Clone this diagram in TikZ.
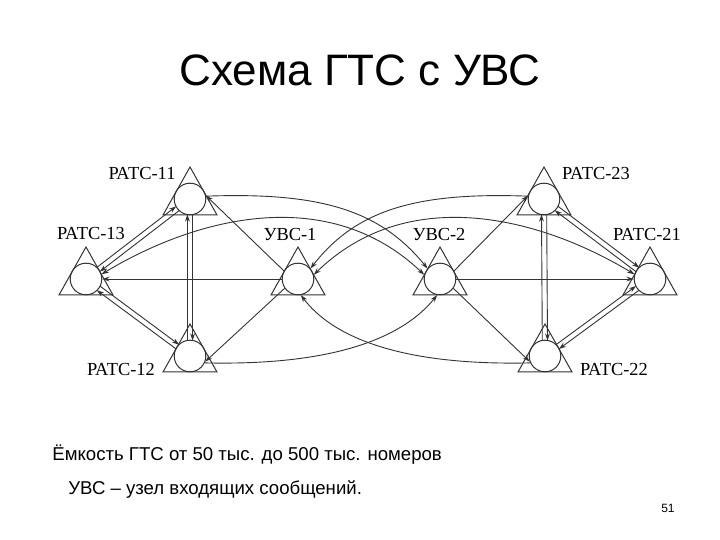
\documentclass[tikz,border=0pt]{standalone}
\usepackage{fontspec}
\setmainfont{Liberation Serif}
\newfontfamily\sansf{Liberation Sans}
\usetikzlibrary{arrows.meta,calc}
\tikzset{
  stn/.style={circle,draw=black!80,line width=0.5pt,minimum size=15.8pt,inner sep=0pt},
  tri/.style={draw=black!80,line width=0.5pt,line join=miter},
  conn/.style={draw=black!80,line width=0.45pt},
  arr/.style={-{Stealth[length=3.6pt,width=2.4pt]}},
  barr/.style={{Stealth[length=3.6pt,width=2.4pt]}-{Stealth[length=3.6pt,width=2.4pt]}},
  lbl/.style={font=\fontsize{9.2pt}{11pt}\selectfont,inner sep=0pt},
  captxt/.style={font=\sansf\fontsize{9.3pt}{11pt}\selectfont,inner sep=0pt,anchor=west},
}
\newcommand\station[3]{%
  \node[stn] (#1) at (#2,#3) {};
  \draw[tri] ([shift={(0,-32)}]#1.center) -- ([shift={(-27,16)}]#1.center) -- ([shift={(27,16)}]#1.center) -- cycle;}
\newcommand\dblconn[2]{%
  \draw[conn,arr,shorten <=7.7pt,shorten >=7.7pt] ($(#1)!1.3pt!90:(#2)$) -- ($(#2)!1.3pt!-90:(#1)$);
  \draw[conn,arr,shorten <=7.7pt,shorten >=7.7pt] ($(#2)!1.3pt!90:(#1)$) -- ($(#1)!1.3pt!-90:(#2)$);}
\begin{document}
\begin{tikzpicture}[x=0.5pt,y=-0.5pt]
\useasboundingbox (0,0) rectangle (720,540);
\fill[white] (0,0) rectangle (720,540);
\node[font=\sansf\fontsize{22pt}{26pt}\selectfont] (title) at (360,70) {Схема ГТС с УВС};
% stations
\station{A11}{190}{199}
\station{A13}{86}{279}
\station{U1}{298}{279}
\station{A12}{190}{356}
\station{A23}{544}{199}
\station{U2}{440}{279}
\station{A21}{650}{279}
\station{A22}{545}{356}
% labels
\node[lbl] (l11) at (142,174) {РАТС-11};
\node[lbl] (l13) at (91,234) {РАТС-13};
\node[lbl] (lu1) at (290,235) {УВС-1};
\node[lbl] (l12) at (121,370) {РАТС-12};
\node[lbl] (lu2) at (439,235) {УВС-2};
\node[lbl] (l23) at (596,174) {РАТС-23};
\node[lbl] (l21) at (647,235) {РАТС-21};
\node[lbl] (l22) at (614,370) {РАТС-22};
% bidirectional pairs
\dblconn{A13}{A11}
\dblconn{A11}{A12}
\dblconn{A13}{A12}
\dblconn{A23}{A21}
\dblconn{A23}{A22}
\dblconn{A21}{A22}
% UVS outgoing
\draw[conn,arr] (U1) -- (A13);
\draw[conn,arr] (U1.150) -- (A11.12);
\draw[conn,arr] (U1.215) -- (A12.-20);
\draw[conn,arr] (U2) -- (A21);
\draw[conn,arr] (U2.30) -- (A23.168);
\draw[conn,arr] (U2.-35) -- (A22.200);
% curves
\draw[conn,arr] (A11.10) .. controls (320,192) and (380,210) .. (U2.140);
\draw[conn,arr] (A23.170) .. controls (416,192) and (356,210) .. (U1.40);
\draw[conn,barr] (A13.17) .. controls (200,215) and (330,185) .. (U2.165);
\draw[conn,barr] (A21.163) .. controls (536,215) and (406,185) .. (U1.15);
\draw[conn,arr] (A12.-25) .. controls (340,366) and (405,335) .. (U2.-100);
\draw[conn,arr] (A22.205) .. controls (396,366) and (331,335) .. (U1.-80);
% captions
\node[captxt] (cap1) at (52,455) {Ёмкость ГТС от 50 тыс. до 500 тыс. номеров};
\node[captxt] (cap2) at (68,490) {УВС – узел входящих сообщений.};
\node[font=\sansf\fontsize{6pt}{7pt}\selectfont,inner sep=0pt] (pg) at (668,508) {51};
\end{tikzpicture}
\end{document}
